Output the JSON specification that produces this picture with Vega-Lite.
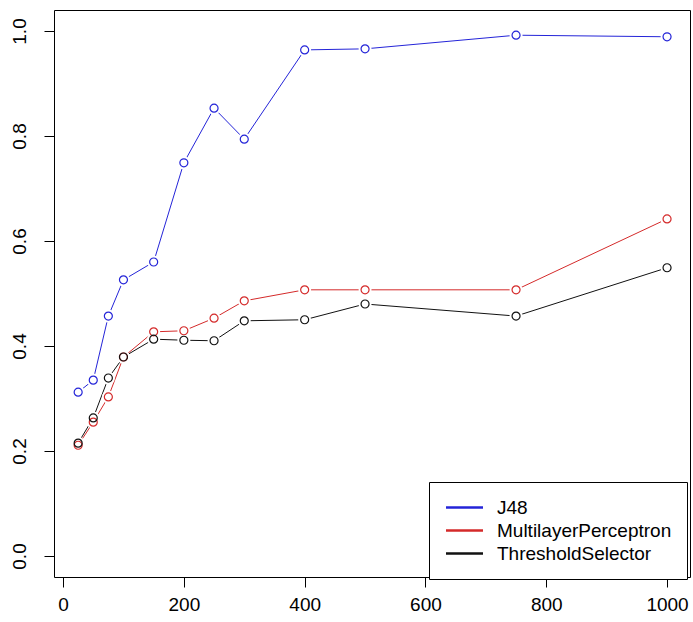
{
  "$schema": "https://vega.github.io/schema/vega-lite/v6.json",
  "width": 636,
  "height": 567,
  "autosize": "none",
  "padding": {"left": 54, "top": 10, "right": 3, "bottom": 45},
  "background": "white",
  "config": {
    "font": "Liberation Sans",
    "view": {"stroke": "#000000", "strokeWidth": 1},
    "axis": {
      "grid": false,
      "domain": false,
      "tickColor": "#000000",
      "tickSize": 10,
      "tickWidth": 1,
      "labelColor": "#000000",
      "labelFontSize": 19,
      "labelFont": "Liberation Sans",
      "title": null
    },
    "legend": {
      "labelFont": "Liberation Sans",
      "labelFontSize": 19,
      "labelColor": "#000000",
      "labelLimit": 0
    }
  },
  "data": {
    "values": [
      {"n": 25, "classifier": "J48", "score": 0.312},
      {"n": 50, "classifier": "J48", "score": 0.335},
      {"n": 75, "classifier": "J48", "score": 0.457},
      {"n": 100, "classifier": "J48", "score": 0.526},
      {"n": 150, "classifier": "J48", "score": 0.560},
      {"n": 200, "classifier": "J48", "score": 0.749},
      {"n": 250, "classifier": "J48", "score": 0.853},
      {"n": 300, "classifier": "J48", "score": 0.794},
      {"n": 400, "classifier": "J48", "score": 0.964},
      {"n": 500, "classifier": "J48", "score": 0.966},
      {"n": 750, "classifier": "J48", "score": 0.992},
      {"n": 1000, "classifier": "J48", "score": 0.989},
      {"n": 25, "classifier": "MultilayerPerceptron", "score": 0.211},
      {"n": 50, "classifier": "MultilayerPerceptron", "score": 0.255},
      {"n": 75, "classifier": "MultilayerPerceptron", "score": 0.303},
      {"n": 100, "classifier": "MultilayerPerceptron", "score": 0.379},
      {"n": 150, "classifier": "MultilayerPerceptron", "score": 0.427},
      {"n": 200, "classifier": "MultilayerPerceptron", "score": 0.429},
      {"n": 250, "classifier": "MultilayerPerceptron", "score": 0.453},
      {"n": 300, "classifier": "MultilayerPerceptron", "score": 0.486},
      {"n": 400, "classifier": "MultilayerPerceptron", "score": 0.507},
      {"n": 500, "classifier": "MultilayerPerceptron", "score": 0.507},
      {"n": 750, "classifier": "MultilayerPerceptron", "score": 0.507},
      {"n": 1000, "classifier": "MultilayerPerceptron", "score": 0.642},
      {"n": 25, "classifier": "ThresholdSelector", "score": 0.215},
      {"n": 50, "classifier": "ThresholdSelector", "score": 0.263},
      {"n": 75, "classifier": "ThresholdSelector", "score": 0.339},
      {"n": 100, "classifier": "ThresholdSelector", "score": 0.379},
      {"n": 150, "classifier": "ThresholdSelector", "score": 0.413},
      {"n": 200, "classifier": "ThresholdSelector", "score": 0.411},
      {"n": 250, "classifier": "ThresholdSelector", "score": 0.410},
      {"n": 300, "classifier": "ThresholdSelector", "score": 0.448},
      {"n": 400, "classifier": "ThresholdSelector", "score": 0.450},
      {"n": 500, "classifier": "ThresholdSelector", "score": 0.480},
      {"n": 750, "classifier": "ThresholdSelector", "score": 0.457},
      {"n": 1000, "classifier": "ThresholdSelector", "score": 0.549}
    ]
  },
  "encoding": {
    "x": {
      "field": "n",
      "type": "quantitative",
      "scale": {"domain": [-15, 1038], "nice": false, "zero": false},
      "axis": {"values": [0, 200, 400, 600, 800, 1000], "format": "d", "labelPadding": 8}
    },
    "y": {
      "field": "score",
      "type": "quantitative",
      "scale": {"domain": [-0.04, 1.04], "nice": false, "zero": false},
      "axis": {
        "values": [0, 0.2, 0.4, 0.6, 0.8, 1.0],
        "format": ".1f",
        "labelAngle": 270,
        "labelAlign": "center",
        "labelBaseline": "middle",
        "labelPadding": 25
      }
    }
  },
  "layer": [
    {
      "mark": {"type": "line", "strokeWidth": 1},
      "encoding": {
        "color": {
          "field": "classifier",
          "type": "nominal",
          "scale": {
            "domain": ["J48", "MultilayerPerceptron", "ThresholdSelector"],
            "range": ["#2424d8", "#d42a2a", "#111111"]
          },
          "legend": {
            "title": null,
            "orient": "none",
            "legendX": 375,
            "legendY": 472,
            "fillColor": "#ffffff",
            "strokeColor": "#000000",
            "padding": 15,
            "symbolType": "M-2,0H2",
            "symbolSize": 342,
            "symbolStrokeWidth": 2.5,
            "symbolOffset": 10,
            "labelOffset": 22,
            "rowPadding": 2
          }
        },
        "detail": {"field": "classifier"}
      }
    },
    {
      "mark": {"type": "point", "shape": "circle", "filled": true, "size": 170, "opacity": 1, "color": "#ffffff"}
    },
    {
      "mark": {"type": "point", "shape": "circle", "filled": false, "size": 64, "strokeWidth": 1.2, "opacity": 1},
      "encoding": {
        "color": {"field": "classifier", "type": "nominal", "legend": null}
      }
    }
  ]
}
